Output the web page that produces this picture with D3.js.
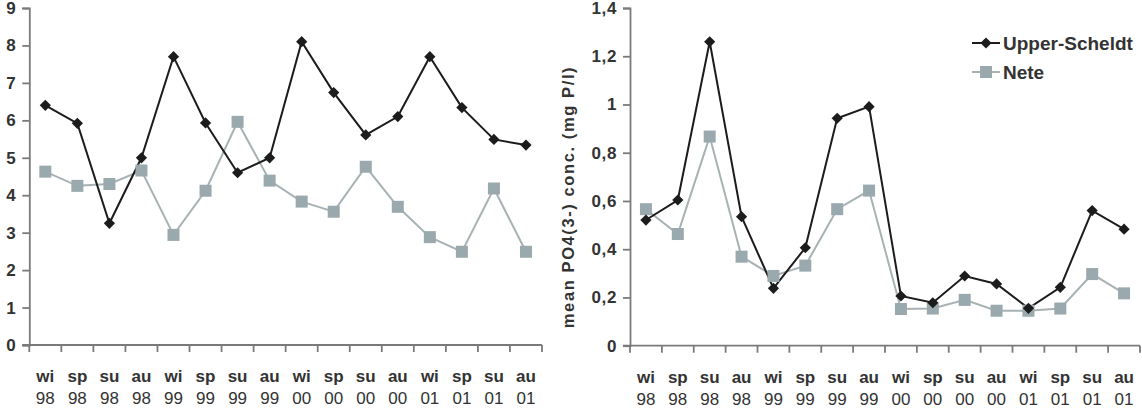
<!DOCTYPE html>
<html lang="en">
<head>
    <meta charset="UTF-8">
    <title>Seasonal concentrations</title>
    <script src="https://d3js.org/d3.v7.min.js"></script>
    <style>
        body, html { margin: 0; padding: 0; overflow: hidden; background: #fff; }
        svg { display: block; }
        text { font-family: "Liberation Sans", Arial, sans-serif; fill: #333; }
    </style>
</head>
<body>
<svg width="1142" height="414"></svg>
<script>
// seasons (line 1) and years (line 2)
const seasons = ["wi","sp","su","au","wi","sp","su","au","wi","sp","su","au","wi","sp","su","au"];
const years   = ["98","98","98","98","99","99","99","99","00","00","00","00","01","01","01","01"];

// left panel
const leftScheldt = [6.4, 5.92, 3.25, 5.0, 7.7, 5.93, 4.6, 5.0, 8.1, 6.74, 5.61, 6.1, 7.7, 6.34, 5.49, 5.34];
const leftNete    = [4.63, 4.25, 4.3, 4.66, 2.94, 4.12, 5.96, 4.39, 3.83, 3.56, 4.76, 3.69, 2.88, 2.49, 4.18, 2.49];
const leftTicks   = [0,1,2,3,4,5,6,7,8,9];

// right panel: mean PO4(3-) conc. (mg P/l)
const rightScheldt = [0.521, 0.604, 1.26, 0.535, 0.238, 0.406, 0.943, 0.991, 0.206, 0.178, 0.289, 0.256, 0.155, 0.242, 0.56, 0.483];
const rightNete    = [0.566, 0.463, 0.867, 0.369, 0.289, 0.332, 0.566, 0.643, 0.152, 0.154, 0.19, 0.145, 0.145, 0.154, 0.297, 0.217];
const rightTicks   = [0,0.2,0.4,0.6,0.8,1,1.2,1.4];

const seriesNames = ["Upper-Scheldt", "Nete"];
const black = "#1c1c1c", grey = "#9aa9ad", greyLine = "#a8b2b4", axisCol = "#7a7a7a";

const svg = d3.select("svg");
const idx = d3.range(seasons.length);
const comma = d3.formatLocale({decimal: ",", thousands: ".", grouping: [3], currency: ["", ""]});

function panel(x0, x1, y0, y1, max, ticks, fmt, scheldt, nete) {
    const x = d3.scaleBand().domain(idx).range([x0, x1]);
    const y = d3.scaleLinear().domain([0, max]).range([y1, y0]);
    const g = svg.append("g");

    // y axis
    const ya = g.append("g").attr("transform", `translate(${x0},0)`)
        .call(d3.axisLeft(y).tickValues(ticks).tickFormat(fmt).tickSize(7).tickPadding(6));
    ya.select(".domain").attr("stroke", axisCol).attr("stroke-width", 1.8);
    ya.selectAll(".tick line").attr("stroke", axisCol).attr("stroke-width", 1.8);
    ya.selectAll(".tick text")
        .attr("font-size", 17).attr("font-weight", "bold").attr("letter-spacing", 0.6)
        .attr("font-family", "Liberation Sans, Arial, sans-serif").attr("fill", "#333");

    // x axis: ticks at band boundaries
    const xa = g.append("g").attr("transform", `translate(0,${y1})`);
    xa.append("line").attr("x1", x0 - 7).attr("x2", x1)
        .attr("stroke", axisCol).attr("stroke-width", 1.8);
    const bounds = idx.map(i => x(i)).concat([x1]);
    xa.selectAll(".tk").data(bounds).enter().append("line")
        .attr("x1", d => d).attr("x2", d => d).attr("y1", 0).attr("y2", 7)
        .attr("stroke", axisCol).attr("stroke-width", 1.8);
    const lab = xa.selectAll(".lab").data(idx).enter().append("text")
        .attr("text-anchor", "middle")
        .attr("font-size", 17)
        .attr("transform", i => `translate(${x(i) + x.bandwidth() / 2},0)`);
    lab.append("tspan").attr("x", 0).attr("y", 37).attr("font-weight", "bold").text(i => seasons[i]);
    lab.append("tspan").attr("x", 0).attr("y", 59).text(i => years[i]);

    const cx = i => x(i) + x.bandwidth() / 2;
    const line = d3.line().x((d, i) => cx(i)).y(d => y(d));

    g.append("path").datum(nete).attr("d", line)
        .attr("fill", "none").attr("stroke", greyLine).attr("stroke-width", 2);
    g.append("path").datum(scheldt).attr("d", line)
        .attr("fill", "none").attr("stroke", black).attr("stroke-width", 2);

    g.selectAll(".sq").data(nete).enter().append("rect")
        .attr("x", (d, i) => cx(i) - 6).attr("y", d => y(d) - 6)
        .attr("width", 12).attr("height", 12).attr("fill", grey);
    g.selectAll(".dm").data(scheldt).enter().append("path")
        .attr("d", d3.symbol(d3.symbolDiamond2, 80))
        .attr("transform", (d, i) => `translate(${cx(i)},${y(d)})`)
        .attr("fill", black);
}

panel(29.3, 542, 8, 345, 9, leftTicks, d3.format("d"), leftScheldt, leftNete);
panel(630, 1140, 8, 345.7, 1.4, rightTicks, d => comma.format(",.1~f")(d), rightScheldt, rightNete);

// y axis title for the right panel
svg.append("text")
    .attr("transform", "translate(574,197) rotate(-90)")
    .attr("text-anchor", "middle")
    .attr("font-size", 16.5).attr("font-weight", "bold").attr("letter-spacing", 1.6)
    .text("mean PO4(3-) conc. (mg P/l)");

// legend
const leg = svg.append("g").attr("transform", "translate(972,43)");
seriesNames.forEach((name, k) => {
    const row = leg.append("g").attr("transform", `translate(0,${k * 29})`);
    row.append("line").attr("x1", 0).attr("x2", 28)
        .attr("stroke", k === 0 ? black : greyLine).attr("stroke-width", 2);
    if (k === 0) {
        row.append("path").attr("d", d3.symbol(d3.symbolDiamond2, 80))
            .attr("transform", "translate(14,0)").attr("fill", black);
    } else {
        row.append("rect").attr("x", 8).attr("y", -6).attr("width", 12).attr("height", 12).attr("fill", grey);
    }
    row.append("text").attr("x", 31).attr("y", 7)
        .attr("font-size", 19).attr("font-weight", "bold").attr("fill", "#333").text(name);
});
</script>
</body>
</html>
